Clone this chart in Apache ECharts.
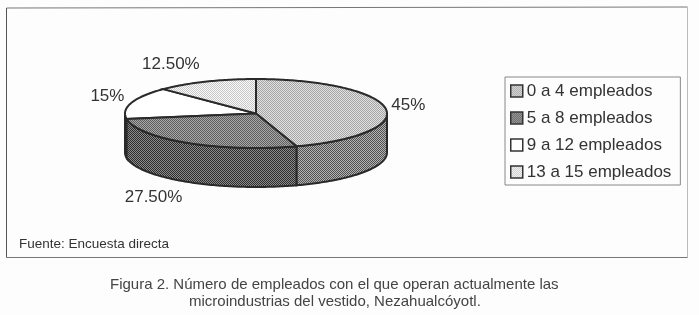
<!DOCTYPE html>
<html><head><meta charset="utf-8">
<script src="https://cdn.jsdelivr.net/npm/echarts@6/dist/echarts.min.js"></script>
<style>html,body{margin:0;background:#fdfdfd}#c{width:699px;height:315px;filter:blur(0.45px)}</style></head>
<body><div id="c"></div>
<script>
const categories = ['0 a 4 empleados', '5 a 8 empleados', '9 a 12 empleados', '13 a 15 empleados'];
const values = [45, 27.5, 15, 12.5];
const valueLabels = ['45%', '27.50%', '15%', '12.50%'];
const sourceText = 'Fuente: Encuesta directa';
const captionLines = ['Figura 2. Número de empleados con el que operan actualmente las', 'microindustrias del vestido, Nezahualcóyotl.'];

const topShades = [['#e2e2e2', '#a4a4a4'], ['#a8a8a8', '#5e5e5e'], ['#ffffff', '#ffffff'], ['#fbfbfb', '#c6c6c6']];
const sideShades = [['#b4b4b4', '#505050'], ['#8c8c8c', '#2c2c2c'], ['#ffffff', '#ffffff'], ['#ffffff', '#ffffff']];
const labelOffsets = [[23, 0], [-34, 0], [-24, -6], [-35, -17]];
const baseLabelY = [105, 197, 96, 64];
const pie = { cx: 256, cy: 113.5, rx: 131, ry: 34.5, depth: 39 };

function dither(a, b) {
  const cv = document.createElement('canvas');
  cv.width = cv.height = 2;
  const g = cv.getContext('2d');
  g.fillStyle = a; g.fillRect(0, 0, 2, 2);
  g.fillStyle = b; g.fillRect(0, 0, 1, 1); g.fillRect(1, 1, 1, 1);
  return { image: cv, repeat: 'repeat' };
}
const total = values.reduce((s, v) => s + v, 0);
const pt = (deg, dy) => {
  const r = deg * Math.PI / 180;
  return [pie.cx + pie.rx * Math.sin(r), pie.cy - pie.ry * Math.cos(r) + (dy || 0)];
};
const arc = (a, b, dy) => {
  const out = [];
  const n = Math.max(2, Math.ceil(Math.abs(b - a)));
  for (let i = 0; i <= n; i++) out.push(pt(a + (b - a) * i / n, dy));
  return out;
};
const starts = values.map((v, i) => values.slice(0, i).reduce((s, x) => s + x, 0));
const line = { stroke: '#2a2a2a', lineWidth: 2 };

const series = categories.map((name, i) => ({
  type: 'custom',
  name,
  coordinateSystem: 'none',
  z: i < 2 ? 3 : 2,
  itemStyle: { color: dither(topShades[i][0], topShades[i][1]), borderColor: '#333', borderWidth: 2 },
  data: [[values[i]]],
  renderItem(params, api) {
    const v = api.value(0);
    const a = starts[i] / total * 360, b = a + v / total * 360;
    const kids = [];
    const sa = Math.max(a, 90), sb = Math.min(b, 270);
    if (sb > sa) {
      const upper = arc(sa, sb);
      const lower = arc(sb, sa, pie.depth);
      kids.push({ type: 'polygon', shape: { points: upper.concat(lower) },
        style: { fill: dither(sideShades[i][0], sideShades[i][1]), ...line } });
    }
    const c = [pie.cx, pie.cy];
    kids.push({ type: 'polygon', shape: { points: [c].concat(arc(a, b)) },
      style: { fill: dither(topShades[i][0], topShades[i][1]), ...line } });
    const m = pt((a + b) / 2);
    kids.push({ type: 'text', z2: 20, style: {
      text: valueLabels[i], x: m[0] + labelOffsets[i][0], y: baseLabelY[i],
      align: 'center', verticalAlign: 'middle', fill: '#333',
      font: '17px "Liberation Sans"' } });
    return { type: 'group', children: kids };
  }
}));

const frame = [
  [[6.5, 8], [6.5, 257.5], '#555'],
  [[6.5, 8], [687.5, 7], '#777'],
  [[687.5, 7], [687.5, 257.5], '#bbb'],
  [[6.5, 257.5], [687.5, 257.5], '#777']
].map(([p, q, stroke]) => ({ type: 'line', silent: true, z: -1,
  shape: { x1: p[0], y1: p[1], x2: q[0], y2: q[1] }, style: { stroke, lineWidth: 1 } }));

const chart = echarts.init(document.getElementById('c'), null, { renderer: 'canvas' });
chart.setOption({
  animation: false,
  backgroundColor: '#fdfdfd',
  legend: {
    orient: 'vertical', left: 505, top: 77,
    padding: [5.5, 9, 4.5, 5], itemGap: 10, itemWidth: 12, itemHeight: 12, icon: 'rect',
    borderColor: '#888', borderWidth: 1, backgroundColor: '#fdfdfd',
    textStyle: { fontFamily: 'Liberation Sans', fontSize: 17, color: '#333', padding: [0, 0, 0, -1] },
    itemStyle: { borderColor: '#333', borderWidth: 1.5 },
    data: categories
  },
  graphic: frame.concat([
    { type: 'text', left: 19, top: 237, style: { text: sourceText, font: '13.5px "Liberation Sans"', fill: '#333' } },
    { type: 'text', left: 110, top: 277, style: { text: captionLines[0], font: '15px "Liberation Sans"', fill: '#444' } },
    { type: 'text', left: 189, top: 294, style: { text: captionLines[1], font: '15px "Liberation Sans"', fill: '#444' } }
  ]),
  series
});
</script></body></html>
